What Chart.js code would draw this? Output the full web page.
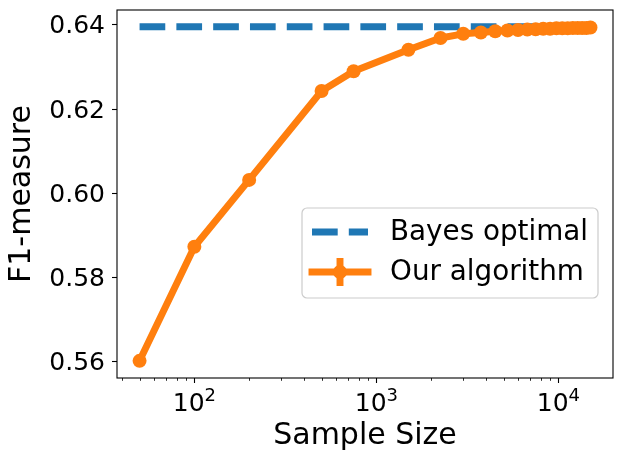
<!DOCTYPE html>
<html lang="en">
<head>
    <meta charset="UTF-8">
    <title>F1-measure vs Sample Size</title>
    <script src="https://cdn.jsdelivr.net/npm/chart.js"></script>
    <style>
        body { margin: 0; background: #fff; }
        canvas { display: block; }
    </style>
</head>
<body>
<canvas id="myChart" width="623" height="462"></canvas>

<script>
    // data
    const sampleSizes = [50, 100, 200, 500, 750, 1500, 2250, 3000, 3750, 4500, 5250, 6000,
        6750, 7500, 8250, 9000, 9750, 10500, 11250, 12000, 12750, 13500, 14250, 15000];
    const ourF1 = [0.5602, 0.5873, 0.6032, 0.6243, 0.6290, 0.6341, 0.6369, 0.6379, 0.6382, 0.6385, 0.6387, 0.6388,
        0.6389, 0.6390, 0.6391, 0.6391, 0.6392, 0.6392, 0.6392, 0.6393, 0.6393, 0.6393, 0.6393, 0.6394];
    const bayesX = [50, 15000];
    const bayesF1 = [0.6396, 0.6396];

    const seriesNames = ['Bayes optimal', 'Our algorithm'];
    const yTicks = [0.56, 0.58, 0.60, 0.62, 0.64];
    const xMajorTicks = [100, 1000, 10000];
    const xTickBase = '10';
    const xTickExponents = ['2', '3', '4'];
    const xMinorTicks = [40, 50, 60, 70, 80, 90, 200, 300, 400, 500, 600, 700, 800, 900,
        2000, 3000, 4000, 5000, 6000, 7000, 8000, 9000];

    const BLUE = '#1f77b4';
    const ORANGE = '#ff7f0e';
    const FONT = '"DejaVu Sans", sans-serif';

    // frame, minor ticks, 10^n tick labels and the matplotlib style legend
    const extras = {
        id: 'extras',
        afterDatasetsDraw(chart) {
            const {ctx, chartArea: a, scales: {x}} = chart;
            ctx.save();
            ctx.strokeStyle = '#000';
            ctx.lineWidth = 0.83;
            ctx.beginPath();
            xMinorTicks.forEach(v => {
                const px = Math.round(x.getPixelForValue(v)) + 0.5;
                ctx.moveTo(px, a.bottom);
                ctx.lineTo(px, a.bottom + 2.8);
            });
            ctx.stroke();
            ctx.lineWidth = 1.1;
            ctx.strokeRect(a.left, a.top, a.right - a.left, a.bottom - a.top);

            // tick labels with a real superscript
            ctx.fillStyle = '#000';
            ctx.textBaseline = 'alphabetic';
            ctx.textAlign = 'left';
            xMajorTicks.forEach((v, i) => {
                const px = x.getPixelForValue(v);
                ctx.font = '25px ' + FONT;
                const wb = ctx.measureText(xTickBase).width;
                ctx.font = '18px ' + FONT;
                const we = ctx.measureText(xTickExponents[i]).width;
                const left = px - (wb + we) / 2;
                ctx.font = '25px ' + FONT;
                ctx.fillText(xTickBase, left, a.bottom + 32.5);
                ctx.font = '18px ' + FONT;
                ctx.fillText(xTickExponents[i], left + wb, a.bottom + 23.3);
            });
            ctx.restore();
        },
        afterDraw(chart) {
            const ctx = chart.ctx;
            ctx.save();
            ctx.beginPath();
            ctx.roundRect(302, 208, 296, 90, 5);
            ctx.fillStyle = 'rgba(255,255,255,0.8)';
            ctx.fill();
            ctx.strokeStyle = '#cccccc';
            ctx.lineWidth = 1.2;
            ctx.stroke();

            // Bayes handle
            ctx.strokeStyle = BLUE;
            ctx.lineWidth = 6.94;
            ctx.lineCap = 'butt';
            ctx.setLineDash([25.7, 11.1]);
            ctx.beginPath();
            ctx.moveTo(312, 232);
            ctx.lineTo(368, 232);
            ctx.stroke();
            ctx.setLineDash([]);

            // errorbar handle
            ctx.strokeStyle = ORANGE;
            ctx.lineCap = 'square';
            ctx.beginPath();
            ctx.moveTo(312, 272);
            ctx.lineTo(368, 272);
            ctx.stroke();
            ctx.lineCap = 'butt';
            ctx.beginPath();
            ctx.moveTo(340, 258);
            ctx.lineTo(340, 286);
            ctx.stroke();
            ctx.fillStyle = ORANGE;
            ctx.beginPath();
            ctx.arc(340, 272, 7, 0, Math.PI * 2);
            ctx.fill();

            ctx.fillStyle = '#000';
            ctx.font = '27.8px ' + FONT;
            ctx.textBaseline = 'alphabetic';
            ctx.fillText(seriesNames[0], 390, 240);
            ctx.fillText(seriesNames[1], 390, 280);
            ctx.restore();
        }
    };

    const ctx = document.getElementById('myChart').getContext('2d');
    new Chart(ctx, {
        type: 'line',
        data: {
            datasets: [{
                label: seriesNames[1],
                data: sampleSizes.map((s, i) => ({x: s, y: ourF1[i]})),
                borderColor: ORANGE,
                backgroundColor: ORANGE,
                borderWidth: 6.94,
                borderJoinStyle: 'round',
                pointRadius: 7,
                pointBorderWidth: 0,
                pointBackgroundColor: ORANGE,
                fill: false,
                tension: 0,
                order: 0
            }, {
                label: seriesNames[0],
                data: bayesX.map((s, i) => ({x: s, y: bayesF1[i]})),
                borderColor: BLUE,
                borderWidth: 6.94,
                borderDash: [25.7, 11.1],
                borderCapStyle: 'butt',
                pointRadius: 0,
                fill: false,
                tension: 0,
                order: 1
            }]
        },
        options: {
            responsive: false,
            animation: false,
            layout: {padding: {left: 0, top: 10, right: 10, bottom: 0}},
            plugins: {
                legend: {display: false},
                tooltip: {enabled: false}
            },
            scales: {
                x: {
                    type: 'logarithmic',
                    min: 37.58,
                    max: 19950,
                    border: {display: false},
                    grid: {
                        drawOnChartArea: false,
                        tickLength: 5,
                        tickWidth: 1.1,
                        tickColor: '#000'
                    },
                    afterBuildTicks: scale => {
                        scale.ticks = xMajorTicks.map(v => ({value: v}));
                    },
                    afterFit: scale => {
                        scale.height = 84;
                        scale.paddingLeft = 0;
                        scale.paddingRight = 0;
                    },
                    ticks: {
                        display: false,
                        autoSkip: false,
                        maxRotation: 0
                    },
                    title: {
                        display: true,
                        text: 'Sample Size',
                        color: '#000',
                        font: {family: FONT, size: 30},
                        padding: {top: 0, bottom: 8}
                    }
                },
                y: {
                    type: 'linear',
                    min: 0.55613,
                    max: 0.64356,
                    border: {display: false},
                    grid: {
                        drawOnChartArea: false,
                        tickLength: 5,
                        tickWidth: 1.1,
                        tickColor: '#000'
                    },
                    afterBuildTicks: scale => {
                        scale.ticks = yTicks.map(v => ({value: v}));
                    },
                    afterFit: scale => {
                        scale.width = 117;
                        scale.paddingTop = 0;
                        scale.paddingBottom = 0;
                    },
                    ticks: {
                        autoSkip: false,
                        padding: 7,
                        labelOffset: 2,
                        color: '#000',
                        font: {family: FONT, size: 25},
                        callback: v => v.toFixed(2)
                    },
                    title: {
                        display: true,
                        text: 'F1-measure',
                        color: '#000',
                        font: {family: FONT, size: 30},
                        padding: {top: 4, bottom: 0}
                    }
                }
            }
        },
        plugins: [extras]
    });
</script>
</body>
</html>
